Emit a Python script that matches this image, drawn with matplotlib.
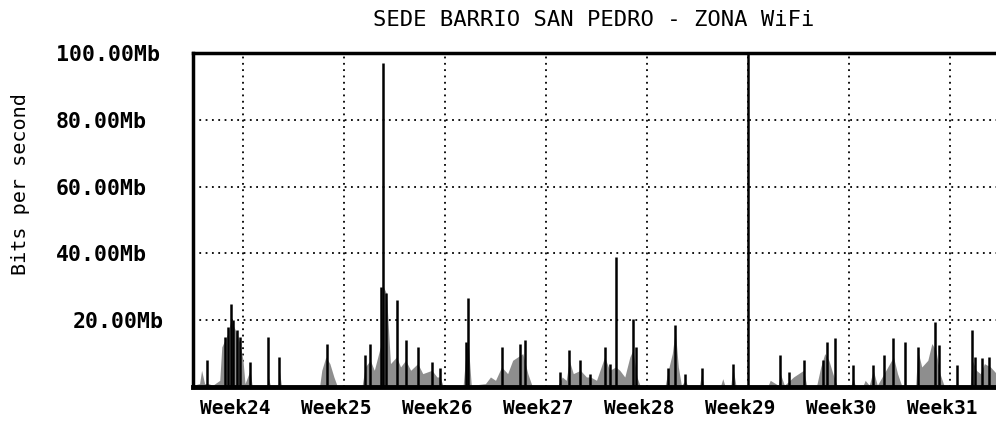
import matplotlib
matplotlib.use('Agg')
import matplotlib.pyplot as plt
import matplotlib.transforms as mtransforms

# peak traffic (black spikes), week position vs Mb/s
spike_week = [23.64, 23.82, 23.85, 23.88, 23.90, 23.94, 23.97, 24.07, 24.25, 24.36,
              24.83, 25.21, 25.26, 25.37, 25.39, 25.42, 25.52, 25.61, 25.73, 25.87,
              25.95, 26.21, 26.23, 26.56, 26.74, 26.79, 27.14, 27.23, 27.34, 27.44,
              27.58, 27.63, 27.69, 27.86, 27.89, 28.21, 28.28, 28.38, 28.54, 28.85,
              29.00, 29.32, 29.41, 29.55, 29.74, 29.78, 29.86, 30.04, 30.24, 30.35,
              30.44, 30.55, 30.68, 30.85, 30.89, 31.07, 31.22, 31.25, 31.32, 31.39]
spike_mbps = [8, 15, 18, 25, 20, 17, 15, 7.5, 15, 9,
              13, 9.5, 13, 30, 97, 28, 26, 14, 12, 7.5,
              5.7, 13.5, 26.5, 12, 13, 14, 4.5, 11, 8, 4,
              12, 7, 39, 20.5, 12, 5.7, 18.5, 4, 5.7, 7,
              100, 9.6, 4.5, 8, 8, 13.5, 14.7, 6.6, 6.6, 9.6,
              14.7, 13.5, 12, 19.5, 12.6, 6.6, 17, 9, 8.7, 9]

# average traffic (grey area)
fill_week = [23.50, 23.57, 23.59, 23.62, 23.66, 23.70, 23.77, 23.79, 23.82, 23.85,
             23.88, 23.91, 23.94, 23.97, 24.00, 24.02, 24.07, 24.09, 24.24, 24.25,
             24.27, 24.35, 24.36, 24.38, 24.76, 24.78, 24.82, 24.86, 24.90, 24.93,
             25.18, 25.21, 25.26, 25.30, 25.36, 25.39, 25.42, 25.46, 25.52, 25.56,
             25.61, 25.66, 25.73, 25.78, 25.87, 25.92, 25.95, 25.98, 26.18, 26.21,
             26.23, 26.26, 26.40, 26.45, 26.50, 26.56, 26.62, 26.67, 26.72, 26.77,
             26.82, 26.86, 27.12, 27.16, 27.20, 27.23, 27.27, 27.34, 27.40, 27.44,
             27.50, 27.58, 27.63, 27.69, 27.73, 27.78, 27.83, 27.86, 27.90, 27.93,
             28.18, 28.21, 28.25, 28.28, 28.31, 28.34, 28.38, 28.40, 28.52, 28.54,
             28.56, 28.73, 28.75, 28.77, 28.83, 28.85, 28.88, 29.20, 29.22, 29.30,
             29.32, 29.36, 29.45, 29.50, 29.55, 29.58, 29.68, 29.72, 29.76, 29.80,
             29.84, 29.88, 30.02, 30.04, 30.06, 30.14, 30.16, 30.20, 30.24, 30.28,
             30.44, 30.48, 30.52, 30.66, 30.68, 30.72, 30.78, 30.82, 30.86, 30.90,
             30.94, 31.20, 31.22, 31.26, 31.30, 31.34, 31.40, 31.46]
fill_mbps = [0.5, 1, 5, 1, 1, 0.5, 2, 12, 14, 16,
             20, 18, 16, 13, 8, 1, 5, 0.5, 0.5, 3,
             0.5, 0.5, 5, 0.5, 0.5, 5, 9, 7, 3, 0.5,
             0.5, 6, 8, 5, 12, 30, 28, 7, 9, 6,
             8, 5, 7, 4, 5, 3, 3, 0.5, 0.5, 11,
             13, 0.5, 1, 3, 2, 6, 4, 8, 9, 10,
             4, 0.5, 0.5, 3, 2, 8, 4, 5, 3, 3,
             2, 9, 5, 6, 5, 3, 9, 11, 3, 0.5,
             0.5, 5, 10, 17, 6, 0.5, 2, 0.5, 0.5, 4,
             0.5, 0.5, 2.5, 0.5, 0.5, 6, 0.5, 0.5, 2, 0.5,
             4, 0.5, 3, 4, 5, 0.5, 0.5, 6, 10, 8,
             4, 0.5, 0.5, 3, 0.5, 0.5, 2, 0.5, 5, 0.5,
             9, 4, 0.5, 0.5, 11, 6, 8, 13, 11, 4,
             0.5, 0.5, 8, 5, 4, 7, 6, 4]

week_ticks = [24, 25, 26, 27, 28, 29, 30, 31]
week_labels = ['Week24', 'Week25', 'Week26', 'Week27', 'Week28', 'Week29', 'Week30', 'Week31']
y_ticks = [20, 40, 60, 80, 100]
y_labels = ['20.00Mb', '40.00Mb', '60.00Mb', '80.00Mb', '100.00Mb']

fig = plt.figure(figsize=(9.96, 4.29), dpi=100)
ax = fig.add_axes([193/996, 42/429, 1 - 193/996, 334/429])

ax.fill_between(fill_week, 0, fill_mbps, color='#8e8e8e', lw=0, zorder=2)
ax.vlines(spike_week, 0, spike_mbps, color='black', lw=1.8, zorder=3)

ax.set_xlim(23.505, 31.455)
ax.set_ylim(0, 100)

ax.set_xticks(week_ticks)
ax.set_xticklabels(week_labels, family='DejaVu Sans Mono', fontweight='bold', fontsize=14)
ax.set_yticks(y_ticks)
ax.set_yticklabels(y_labels, family='DejaVu Sans Mono', fontweight='bold', fontsize=15.5, ha='left')
ax.tick_params(axis='both', length=0)
ax.tick_params(axis='y', pad=99)
ax.tick_params(axis='x', pad=9)

off = mtransforms.ScaledTranslation(-8/100, 0, fig.dpi_scale_trans)
for lab in ax.get_xticklabels():
    lab.set_transform(lab.get_transform() + off)
for lab in ax.get_yticklabels():
    if lab.get_text() == '20.00Mb':
        lab.set_transform(lab.get_transform() + mtransforms.ScaledTranslation(17/100, 0, fig.dpi_scale_trans))

ax.grid(True, color='black', linestyle=(0, (1, 2.5)), linewidth=1.3, zorder=1)
ax.set_axisbelow(True)

for s in ['left', 'top']:
    ax.spines[s].set_linewidth(2.5)
    ax.spines[s].set_zorder(5)
ax.spines['bottom'].set_linewidth(3.5)
ax.spines['bottom'].set_zorder(5)
ax.spines['right'].set_visible(False)

fig.text(594/996, 1 - 20/429, 'SEDE BARRIO SAN PEDRO - ZONA WiFi', family='DejaVu Sans Mono',
         fontsize=16, ha='center', va='center')
fig.text(20/996, 1 - 184/429, 'Bits per second', family='DejaVu Sans Mono',
         fontsize=14.5, rotation=90, ha='center', va='center')

fig.savefig('out.png', dpi=100)
